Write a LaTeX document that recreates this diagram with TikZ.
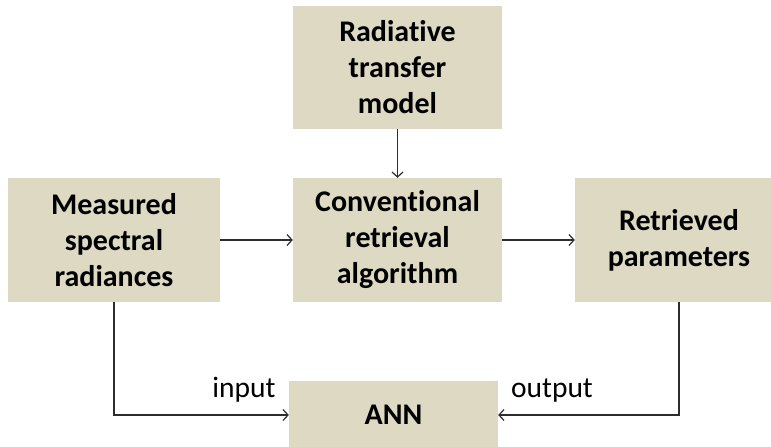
\documentclass[tikz,border=0pt]{standalone}
\usepackage{fontspec}
\setmainfont{Carlito}[Ligatures=NoCommon]
\usetikzlibrary{arrows.meta}
\definecolor{boxfill}{RGB}{221,217,195}
\definecolor{linecol}{RGB}{45,45,45}
\tikzset{
  blk/.style={fill=boxfill, draw=none, inner sep=0pt, align=center,
    font=\bfseries\fontsize{30}{36}\selectfont},
  conn/.style={draw=linecol, line width=1.2pt, -{Straight Barb[length=5pt,width=11pt,line width=1.2pt]}},
  lbl/.style={anchor=base, inner sep=0pt, font=\fontsize{29.5}{35}\selectfont}
}
\begin{document}
\begin{tikzpicture}[x=1pt,y=-1pt]
\useasboundingbox (0,0) rectangle (771,447);
\clip (0,0) rectangle (771,447);
\fill[white] (0,0) rectangle (771,447);
\node[blk, minimum width=209pt, minimum height=123pt] (rtm) at (397.5,67.5) {Radiative\\transfer\\model};
\node[blk, minimum width=212pt, minimum height=124pt] (msr) at (114,240) {Measured\\spectral\\radiances};
\node[blk, minimum width=209pt, minimum height=124pt] (cra) at (397.5,240) {Conventional\\retrieval\\algorithm};
\node[blk, minimum width=208pt, minimum height=124pt] (rp) at (679,240) {Retrieved\\parameters};
\node[blk, minimum width=209pt, minimum height=68pt] (ann) at (393.5,415) {ANN};
\node[lbl] (inlbl) at (244,397) {input};
\node[lbl] (outlbl) at (552,397) {output};
\draw[conn] (rtm.south) -- (cra.north);
\draw[conn] (msr.east) -- (cra.west);
\draw[conn] (cra.east) -- (rp.west);
\draw[conn] (msr.south) -- (msr.south |- ann.west) -- (ann.west);
\draw[conn] (rp.south) -- (rp.south |- ann.east) -- (ann.east);
\end{tikzpicture}
\end{document}
